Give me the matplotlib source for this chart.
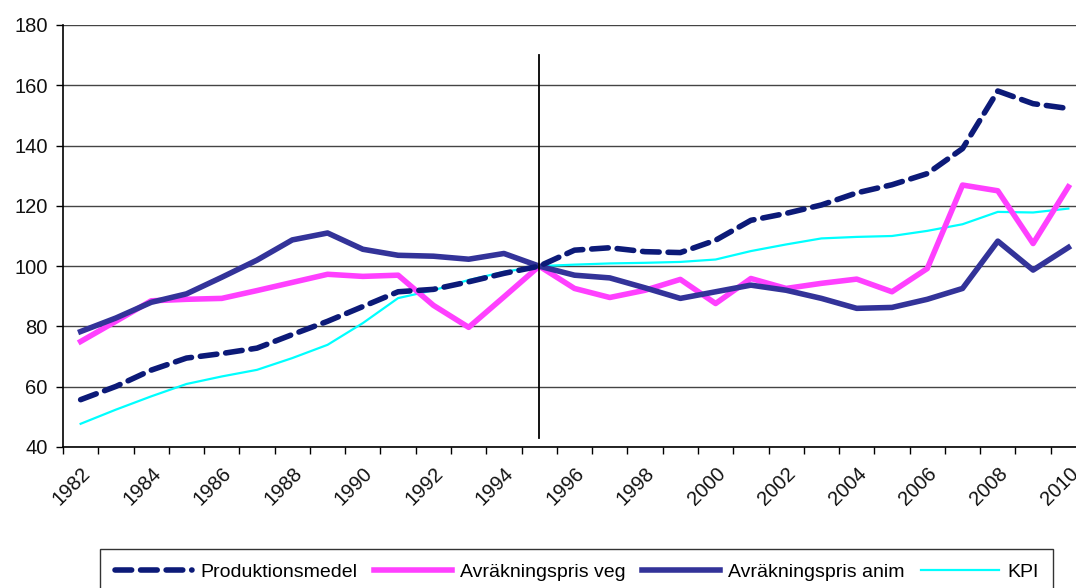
import matplotlib
matplotlib.use("Agg")
import matplotlib.pyplot as plt
import numpy as np

years = list(range(1982, 2011))
produktionsmedel = [55.7, 60.1, 65.5, 69.5, 71, 72.8, 77.3, 81.7, 86.6, 91.5, 92.3, 94.8, 97.6, 100,
                    105.3, 106.1, 104.8, 104.5, 108.6, 115.2, 117.5, 120.3, 124.3, 127.0, 130.7, 139, 158.1, 153.9, 152.3]
veg = [75, 81.7, 88.5, 89.0, 89.3, 91.9, 94.6, 97.3, 96.6, 97, 87, 79.7, 89.8, 100,
       92.6, 89.6, 92, 95.6, 87.6, 95.9, 92.6, 94.3, 95.7, 91.5, 99.2, 126.9, 125, 107.5, 126.3]
anim = [78.3, 82.8, 88.0, 90.8, 96.3, 102.0, 108.7, 111.0, 105.6, 103.6, 103.3, 102.3, 104.2, 100,
        97, 96.1, 92.8, 89.3, 91.5, 93.7, 92, 89.3, 86, 86.3, 89, 92.6, 108.3, 98.7, 106.2]
kpi = [47.7, 52.4, 56.8, 60.9, 63.4, 65.6, 69.5, 73.9, 81.1, 89.4, 92, 95.4, 98.1, 100,
       100.5, 100.9, 101.1, 101.4, 102.2, 105, 107.2, 109.2, 109.7, 110, 111.7, 113.9, 118, 117.8, 119.1]
base_year = 1995
yticks = [40, 60, 80, 100, 120, 140, 160, 180]

plt.rcParams['font.family'] = ['Liberation Sans', 'DejaVu Sans']

fig = plt.figure(figsize=(10.76, 5.88), dpi=100)
ax = fig.add_axes([63/1076, 1-447/588, (1086-63)/1076, (447-25)/588])

x = np.arange(len(years))
ax.plot(x, produktionsmedel, color='#0c1a78', lw=4, dashes=(3, 1.6), dash_capstyle='round',
        label='Produktionsmedel', zorder=5)
ax.plot(x, veg, color='#ff40ff', lw=4, label='Avräkningspris veg', zorder=3)
ax.plot(x, anim, color='#333399', lw=4, label='Avräkningspris anim', zorder=4)
ax.plot(x, kpi, color='#00ffff', lw=1.6, label='KPI', zorder=2)

bi = years.index(base_year)
ax.plot([bi, bi], [43, 170], color='black', lw=1.3, zorder=6)

ax.set_xlim(-0.5, len(years) - 0.5)
ax.set_ylim(40, 180)
ax.set_yticks(yticks)
ax.set_yticklabels([str(v) for v in yticks], fontsize=14.5, color='#111111')
ax.yaxis.grid(True, color='#444444', lw=1)
ax.set_axisbelow(True)

ax.set_xticks(x[::2])
ax.set_xticklabels([str(y) for y in years[::2]], rotation=45, ha='right', va='top',
                   rotation_mode='anchor', fontsize=14.5, color='#111111')
ax.tick_params(axis='x', which='major', length=0, pad=12)
ax.set_xticks(np.arange(-0.5, len(years), 1), minor=True)
ax.tick_params(axis='x', which='minor', length=5, width=1, direction='out', color='black')
ax.tick_params(axis='y', length=5, width=1, direction='out', pad=6)

for s in ['top', 'right']:
    ax.spines[s].set_visible(False)
ax.spines['left'].set_color('black')
ax.spines['bottom'].set_color('black')
ax.spines['left'].set_linewidth(1.2)
ax.spines['bottom'].set_linewidth(1.2)

leg = fig.legend(loc='upper left', bbox_to_anchor=(100/1076, 0.0, 953/1076, 1-549/588),
                 ncol=4, mode='expand', fontsize=14, frameon=True, fancybox=False,
                 edgecolor='black', borderpad=0.75, borderaxespad=0, handlelength=4.0,
                 handletextpad=0.4, columnspacing=1.5)
leg.get_frame().set_linewidth(1.0)

fig.savefig('out.png', dpi=100)
